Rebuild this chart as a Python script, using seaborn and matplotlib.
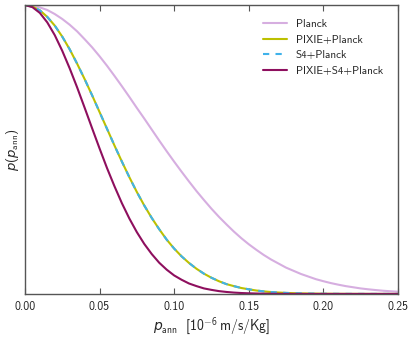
import numpy as np
import pandas as pd
import matplotlib
matplotlib.use("Agg")
import matplotlib.pyplot as plt
import seaborn as sns

# values, step 0.005 in p_ann
p_ann = [0.000, 0.005, 0.010, 0.015, 0.020, 0.025, 0.030, 0.035, 0.040, 0.045, 0.050,
         0.055, 0.060, 0.065, 0.070, 0.075, 0.080, 0.085, 0.090, 0.095, 0.100,
         0.105, 0.110, 0.115, 0.120, 0.125, 0.130, 0.135, 0.140, 0.145, 0.150,
         0.155, 0.160, 0.165, 0.170, 0.175, 0.180, 0.185, 0.190, 0.195, 0.200,
         0.205, 0.210, 0.215, 0.220, 0.225, 0.230, 0.235, 0.240, 0.245, 0.250]
planck = [1.000, 0.998, 0.992, 0.983, 0.969, 0.952, 0.932, 0.909, 0.882, 0.854, 0.823,
          0.790, 0.755, 0.719, 0.682, 0.644, 0.607, 0.569, 0.531, 0.494, 0.458,
          0.423, 0.389, 0.356, 0.325, 0.295, 0.267, 0.241, 0.216, 0.193, 0.172,
          0.153, 0.135, 0.119, 0.105, 0.091, 0.080, 0.069, 0.060, 0.051, 0.044,
          0.0375, 0.032, 0.027, 0.023, 0.019, 0.016, 0.0134, 0.011, 0.0092, 0.0076]
pixie = [1.000, 0.995, 0.982, 0.959, 0.929, 0.891, 0.847, 0.797, 0.744, 0.688, 0.630,
         0.572, 0.514, 0.458, 0.404, 0.353, 0.306, 0.263, 0.224, 0.188, 0.157,
         0.130, 0.107, 0.087, 0.070, 0.056, 0.044, 0.034, 0.027, 0.0205, 0.016,
         0.0118, 0.0088, 0.0065, 0.0048, 0.0035, 0.0025, 0.0018, 0.0013, 0.0010, 0.0006,
         0.0005, 0.0003, 0.0002, 0.0001, 0.0001, 0.0, 0.0, 0.0, 0.0, 0.0]
s4 = list(pixie)  # S4+Planck lies on top of PIXIE+Planck
pixie_s4 = [1.000, 0.993, 0.973, 0.940, 0.896, 0.842, 0.781, 0.715, 0.645, 0.574, 0.504,
            0.436, 0.373, 0.314, 0.261, 0.214, 0.173, 0.138, 0.108, 0.084, 0.064,
            0.049, 0.036, 0.027, 0.019, 0.014, 0.0097, 0.0068, 0.0046, 0.0031, 0.0021,
            0.0014, 0.0009, 0.0006, 0.0004, 0.0002, 0.0001, 0.0001, 0.0, 0.0, 0.0,
            0.0, 0.0, 0.0, 0.0, 0.0, 0.0, 0.0, 0.0, 0.0, 0.0]

labels = ["Planck", "PIXIE+Planck", "S4+Planck", "PIXIE+S4+Planck"]
series = [planck, pixie, s4, pixie_s4]
colors = ["#d6aee0", "#bcc000", "#3fb2ea", "#8e0f5e"]
styles = ["-", "-", (0, (3, 3)), "-"]

sns.set_style("white")
plt.rcParams["mathtext.fontset"] = "custom"
plt.rcParams["mathtext.rm"] = "cmss10"
plt.rcParams["mathtext.it"] = "DejaVu Sans:italic"
plt.rcParams["font.family"] = ["cmss10", "DejaVu Sans"]
plt.rcParams["axes.formatter.use_mathtext"] = True

fig = plt.figure(figsize=(4.15, 3.39), dpi=100)
ax = fig.add_axes([0.060, 0.133, 0.899, 0.852])

for lab, vals, c, ls in zip(labels, series, colors, styles):
    df = pd.DataFrame({"x": p_ann, "y": vals})
    sns.lineplot(data=df, x="x", y="y", ax=ax, color=c, linestyle=ls, linewidth=1.5, label=lab)

ax.set_xlim(0, 0.25)
ax.set_ylim(0, 1.0)
ax.set_xticks([0.0, 0.05, 0.10, 0.15, 0.20, 0.25])
ax.set_xticklabels(["0.00", "0.05", "0.10", "0.15", "0.20", "0.25"])
ax.set_yticks([])
ax.tick_params(axis="x", direction="in", top=True, bottom=True, length=4, labelsize=8.5, pad=5, color="#555555")
ax.set_xlabel(r"$p_{\rm ann}\ \ [10^{-6}\,{\rm m/s/Kg}]$", fontsize=10, labelpad=2)
ax.set_ylabel(r"$p(p_{\rm ann})$", fontsize=9.5, labelpad=3)
for s in ax.spines.values():
    s.set_color("#555555")
    s.set_linewidth(1.0)

ax.legend(loc="upper right", frameon=False, fontsize=8, handlelength=2.2,
          borderaxespad=0.6, labelspacing=0.5, bbox_to_anchor=(0.99, 0.99))

fig.savefig("out.png", dpi=100)
